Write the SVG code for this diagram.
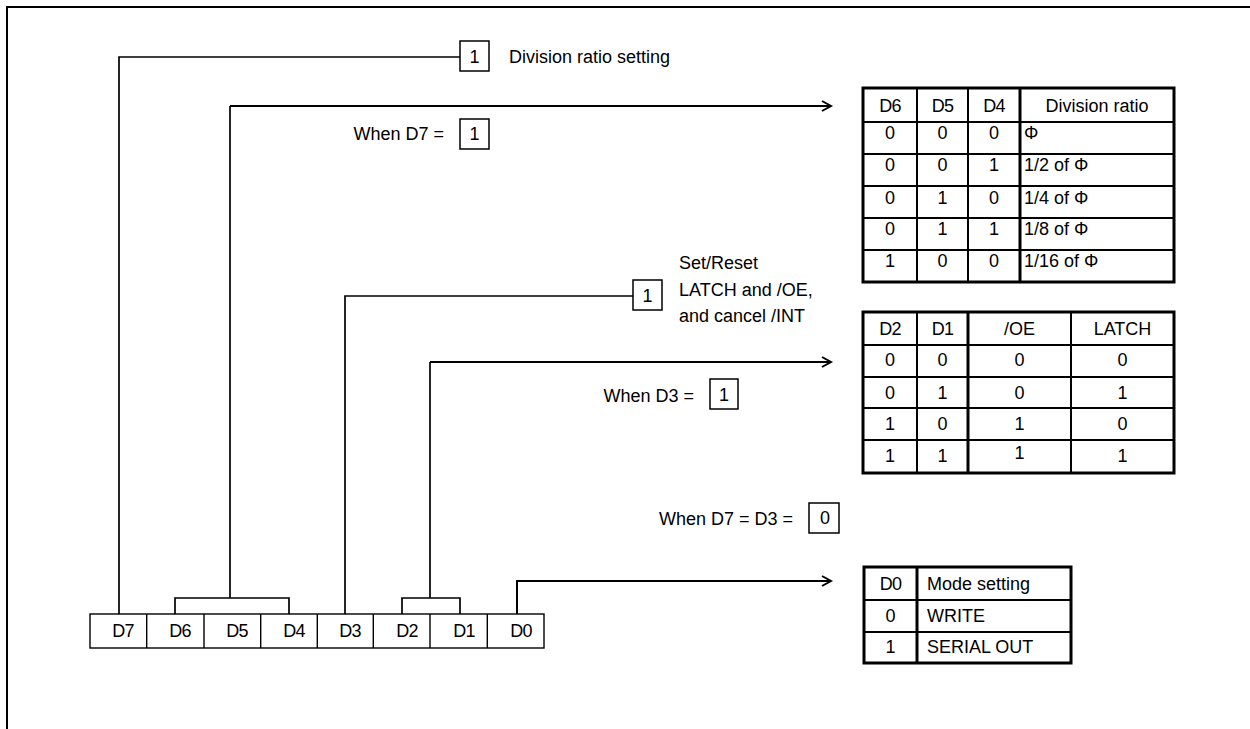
<svg xmlns="http://www.w3.org/2000/svg" width="1250" height="729" viewBox="0 0 1250 729">
<defs>
<marker id="arr" markerUnits="userSpaceOnUse" markerWidth="14" markerHeight="14" refX="10" refY="6" orient="auto">
<path d="M1,1 L10,6 L1,11" fill="none" stroke="#000" stroke-width="2"/>
</marker>
<style>
text{font-family:"Liberation Sans",Arial,sans-serif;font-size:18px;fill:#000}
.c{text-anchor:middle}
.e{text-anchor:end}
.d{letter-spacing:-0.8px}
.ln{fill:none;stroke:#000;stroke-width:1.7}
.ar{fill:none;stroke:#000;stroke-width:2}
.box{fill:#fff;stroke:#000;stroke-width:1.5}
.tb{fill:none;stroke:#000;stroke-width:3}
.ti{fill:none;stroke:#000;stroke-width:2}
.rg{fill:#fff;stroke:#000;stroke-width:1.4}
</style>
</defs>
<rect width="1250" height="729" fill="#fff"/>
<path d="M7,729 V7 H1250" fill="none" stroke="#000" stroke-width="2"/>

<g id="connectors">
<path class="ln" d="M119,614 V57 H460"/>
<path class="ln" d="M175,614 V598 H289 V614 M230,598 V106"/>
<path class="ar" d="M230,106 H831" marker-end="url(#arr)"/>
<path class="ln" d="M345,614 V296 H633"/>
<path class="ln" d="M402,614 V598 H460 V614 M430,598 V362"/>
<path class="ar" d="M430,362 H831" marker-end="url(#arr)"/>
<path class="ar" d="M517,614 V581 H831" marker-end="url(#arr)"/>
</g>

<g id="register">
<rect class="rg" x="90" y="614" width="454" height="34"/>
<path class="rg" d="M146.7,614 V648 M204,614 V648 M260.7,614 V648 M317.3,614 V648 M373.3,614 V648 M430,614 V648 M487.3,614 V648"/>
<g id="reg-D7"><text class="c d" x="123" y="637" font-size="17">D7</text></g>
<g id="reg-D6"><text class="c d" x="180" y="637" font-size="17">D6</text></g>
<g id="reg-D5"><text class="c d" x="237" y="637" font-size="17">D5</text></g>
<g id="reg-D4"><text class="c d" x="294" y="637" font-size="17">D4</text></g>
<g id="reg-D3"><text class="c d" x="350" y="637" font-size="17">D3</text></g>
<g id="reg-D2"><text class="c d" x="407" y="637" font-size="17">D2</text></g>
<g id="reg-D1"><text class="c d" x="464" y="637" font-size="17">D1</text></g>
<g id="reg-D0"><text class="c d" x="521" y="637" font-size="17">D0</text></g>
</g>

<g id="div-setting">
<rect class="box" x="460" y="41" width="29" height="30"/>
<text class="c" x="474.5" y="62.5">1</text>
<text x="509" y="62.5" font-size="20">Division ratio setting</text>
</g>

<g id="when-d7">
<text class="e" x="444" y="139.5">When D7 =</text>
<rect class="box" x="460" y="119" width="29" height="30"/>
<text class="c" x="474.5" y="140">1</text>
</g>

<g id="set-reset">
<rect class="box" x="633" y="280" width="29" height="30"/>
<text class="c" x="647.5" y="301.5">1</text>
<text x="679" y="269">Set/Reset</text>
<text x="679" y="295.5">LATCH and /OE,</text>
<text x="679" y="322">and cancel /INT</text>
</g>

<g id="when-d3">
<text class="e" x="694" y="402">When D3 =</text>
<rect class="box" x="710" y="379" width="28" height="30"/>
<text class="c" x="724" y="400.5">1</text>
</g>

<g id="when-d7-d3">
<text class="e" x="793" y="525">When D7 = D3 =</text>
<rect class="box" x="809" y="503" width="30" height="30"/>
<text class="c" x="825" y="524">0</text>
</g>

<g id="table-division">
<rect class="tb" x="863" y="88" width="311" height="194"/>
<path class="ti" d="M917,88 V282 M968,88 V282 M863,122 H1174 M863,154 H1174 M863,186 H1174 M863,218 H1174 M863,250 H1174"/>
<path class="tb" d="M1020,88 V282"/>
<text class="c d" x="890" y="111.5">D6</text>
<text class="c d" x="942.5" y="111.5">D5</text>
<text class="c d" x="994" y="111.5">D4</text>
<text class="c" x="1097" y="111.5">Division ratio</text>
<text class="c" x="890" y="138.5">0</text><text class="c" x="942.5" y="138.5">0</text><text class="c" x="994" y="138.5">0</text><text x="1024" y="138.5">Φ</text>
<text class="c" x="890" y="171">0</text><text class="c" x="942.5" y="171">0</text><text class="c" x="994" y="171">1</text><text x="1024" y="171">1/2 of Φ</text>
<text class="c" x="890" y="203.5">0</text><text class="c" x="942.5" y="203.5">1</text><text class="c" x="994" y="203.5">0</text><text x="1024" y="203.5">1/4 of Φ</text>
<text class="c" x="890" y="235">0</text><text class="c" x="942.5" y="235">1</text><text class="c" x="994" y="235">1</text><text x="1024" y="235">1/8 of Φ</text>
<text class="c" x="890" y="267">1</text><text class="c" x="942.5" y="267">0</text><text class="c" x="994" y="267">0</text><text x="1024" y="267">1/16 of Φ</text>
</g>

<g id="table-latch">
<rect class="tb" x="863" y="312" width="311" height="161"/>
<path class="ti" d="M917,312 V473 M1071,312 V473 M863,345 H1174 M863,377 H1174 M863,408 H1174 M863,440 H1174"/>
<path class="tb" d="M968,312 V473"/>
<text class="c d" x="890" y="334.5">D2</text>
<text class="c d" x="942.5" y="334.5">D1</text>
<text class="c" x="1019.5" y="334.5">/OE</text>
<text class="c" x="1122.5" y="334.5">LATCH</text>
<text class="c" x="890" y="366">0</text><text class="c" x="942.5" y="366">0</text><text class="c" x="1019.5" y="366">0</text><text class="c" x="1122.5" y="366">0</text>
<text class="c" x="890" y="398.5">0</text><text class="c" x="942.5" y="398.5">1</text><text class="c" x="1019.5" y="398.5">0</text><text class="c" x="1122.5" y="398.5">1</text>
<text class="c" x="890" y="430">1</text><text class="c" x="942.5" y="430">0</text><text class="c" x="1019.5" y="430">1</text><text class="c" x="1122.5" y="430">0</text>
<text class="c" x="890" y="461.5">1</text><text class="c" x="942.5" y="461.5">1</text><text class="c" x="1019.5" y="459">1</text><text class="c" x="1122.5" y="461.5">1</text>
</g>

<g id="table-mode">
<rect class="tb" x="864" y="567" width="207" height="96"/>
<path class="ti" d="M864,600 H1071 M864,632 H1071"/>
<path class="tb" d="M917,567 V663"/>
<text class="c d" x="890.5" y="590">D0</text>
<text x="927" y="590">Mode setting</text>
<text class="c" x="890.5" y="621.5">0</text>
<text x="927" y="621.5">WRITE</text>
<text class="c" x="890.5" y="653">1</text>
<text x="927" y="653">SERIAL OUT</text>
</g>
</svg>
